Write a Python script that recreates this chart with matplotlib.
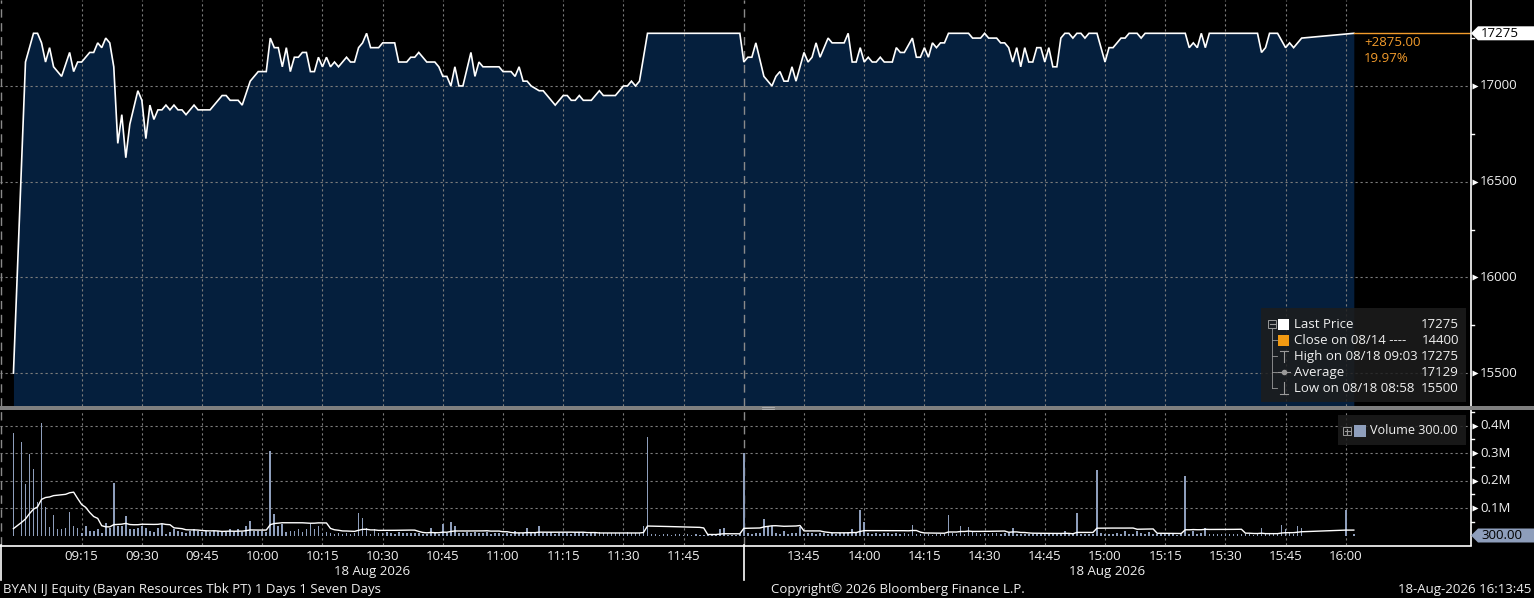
import numpy as np
import pandas as pd
import matplotlib
matplotlib.use("Agg")
import matplotlib.pyplot as plt
from matplotlib.transforms import blended_transform_factory as blend
from matplotlib.patches import Polygon, Rectangle
from matplotlib.lines import Line2D

plt.rcParams['font.family'] = ['Open Sans', 'DejaVu Sans']

# ---------------------------------------------------------------- data
price_times = [
    "08:58", "09:01", "09:03", "09:04", "09:05", "09:06", "09:07", "09:08", "09:10", "09:12",
    "09:13", "09:14", "09:15", "09:16", "09:17", "09:18", "09:19", "09:20", "09:21", "09:22",
    "09:23", "09:24", "09:25", "09:26", "09:27", "09:29", "09:30", "09:31", "09:32", "09:33",
    "09:34", "09:35", "09:36", "09:37", "09:38", "09:39", "09:40", "09:41", "09:43", "09:44",
    "09:47", "09:50", "09:51", "09:52", "09:54", "09:55", "09:57", "09:59", "10:01", "10:02",
    "10:03", "10:04", "10:05", "10:06", "10:07", "10:08", "10:09", "10:10", "10:11", "10:12",
    "10:13", "10:14", "10:15", "10:16", "10:17", "10:18", "10:19", "10:21", "10:22", "10:23",
    "10:24", "10:25", "10:26", "10:27", "10:29", "10:30", "10:33", "10:34", "10:36", "10:37",
    "10:38", "10:39", "10:41", "10:43", "10:44", "10:45", "10:46", "10:47", "10:48", "10:49",
    "10:50", "10:52", "10:53", "10:54", "10:55", "10:59", "11:00", "11:02", "11:03", "11:04",
    "11:05", "11:06", "11:07", "11:09", "11:10", "11:13", "11:15", "11:16", "11:17", "11:18",
    "11:19", "11:20", "11:22", "11:24", "11:25", "11:28", "11:30", "11:31", "11:32", "11:33",
    "11:34", "11:36", "11:59",
    "13:30", "13:31", "13:32", "13:33", "13:35", "13:37", "13:38", "13:39", "13:40", "13:41",
    "13:42", "13:43", "13:45", "13:46", "13:47", "13:48", "13:49", "13:51", "13:52", "13:55",
    "13:56", "13:57", "13:58", "13:59", "14:00", "14:01", "14:02", "14:03", "14:04", "14:05",
    "14:07", "14:08", "14:09", "14:10", "14:12", "14:13", "14:14", "14:15", "14:16", "14:17",
    "14:18", "14:19", "14:20", "14:21", "14:26", "14:27", "14:29", "14:30", "14:31", "14:33",
    "14:34", "14:35", "14:36", "14:37", "14:38", "14:39", "14:40", "14:41", "14:42", "14:43",
    "14:44", "14:45", "14:46", "14:47", "14:48", "14:49", "14:50", "14:51", "14:52", "14:53",
    "14:54", "14:55", "14:56", "14:58", "15:00", "15:01", "15:02", "15:04", "15:05", "15:06",
    "15:08", "15:09", "15:10", "15:20", "15:21", "15:22", "15:23", "15:24", "15:25", "15:26",
    "15:38", "15:39", "15:40", "15:41", "15:43", "15:45", "15:46", "15:47", "15:49", "16:02",
]
price_values = [
    15500, 17125, 17275, 17275, 17225, 17125, 17200, 17100, 17050, 17175,
    17075, 17125, 17125, 17150, 17175, 17175, 17225, 17200, 17250, 17225,
    17100, 16700, 16850, 16625, 16800, 16975, 16925, 16725, 16900, 16825,
    16875, 16875, 16900, 16875, 16900, 16875, 16875, 16850, 16900, 16875,
    16875, 16950, 16950, 16925, 16925, 16900, 17025, 17075, 17075, 17250,
    17200, 17200, 17100, 17200, 17075, 17150, 17150, 17175, 17175, 17075,
    17075, 17150, 17100, 17150, 17100, 17125, 17100, 17150, 17125, 17125,
    17200, 17225, 17275, 17200, 17200, 17225, 17225, 17125, 17125, 17150,
    17150, 17175, 17125, 17125, 17100, 17050, 17050, 17000, 17100, 17000,
    17000, 17175, 17050, 17125, 17100, 17100, 17075, 17075, 17050, 17100,
    17025, 17025, 17000, 16975, 16975, 16900, 16950, 16950, 16925, 16925,
    16950, 16925, 16925, 16975, 16950, 16950, 17000, 17000, 17025, 17000,
    17025, 17275, 17275,
    17125, 17150, 17150, 17225, 17050, 17000, 17050, 17075, 17025, 17025,
    17100, 17025, 17175, 17125, 17150, 17225, 17150, 17250, 17225, 17225,
    17275, 17125, 17125, 17200, 17125, 17150, 17125, 17125, 17150, 17125,
    17125, 17200, 17175, 17175, 17250, 17150, 17150, 17200, 17150, 17225,
    17200, 17225, 17225, 17275, 17275, 17250, 17250, 17275, 17250, 17250,
    17225, 17225, 17200, 17125, 17200, 17100, 17200, 17125, 17125, 17200,
    17200, 17125, 17200, 17100, 17100, 17250, 17275, 17275, 17250, 17275,
    17275, 17250, 17275, 17275, 17125, 17200, 17200, 17250, 17250, 17275,
    17275, 17250, 17275, 17275, 17200, 17225, 17200, 17275, 17200, 17275,
    17275, 17175, 17200, 17275, 17275, 17200, 17225, 17200, 17250, 17275,
]

NA = np.nan
# per-minute volume, thousands of shares (NA = no trade)
vol_s1_start = "08:58"
vol_s1_k = [
    375, NA, 339, 187, 296, 242, 123, 411, 103, 30,
    73, 22, 22, 27, 85, 34, 27, 10, 34, 18,
    17, 22, 10, 44, 27, 193, 36, 36, 70, 22,
    22, 29, 36, 29, 18, 12, 27, 42, 6, 12,
    22, 15, 12, 10, 15, 22, 18, 12, 15, 12,
    18, 15, 18, 12, 24, 12, 24, 12, 36, 54,
    18, 15, 15, 12, 308, 79, 34, 42, 12, 18,
    18, 22, 12, 22, 42, 22, 33, 10, 12, 8,
    6, 8, 5, 8, 6, 10, 81, 63, 27, 6,
    22, 8, 10, 14, 9, 7, 12, 8, 10, 9,
    8, 10, 7, 6, 27, 8, 6, 42, 9, 51,
    34, 10, 8, 12, 9, 11, 8, 10, 14, 7,
    9, 8, 6, 10, 7, 15, 8, 10, 27, 8,
    9, 34, 8, 10, 12, 7, 9, 10, 8, 7,
    10, 12, 8, 7, 10, 9, 11, 8, 9, 10,
    8, 9, 10, 12, 9, 8, 10, 34, 360, 6,
    4, 3, 5, 4, 3, 4, 5, 3, 4, 3,
    4, 3, 2, 3, 4, 3, 24, 28, 3, 2,
    3, 4,
]
vol_s2_start = "13:30"
vol_s2_k = [
    302, 8, 6, 10, 9, 60, 34, 34, 8, 6,
    15, 7, 8, 9, 30, 6, 8, 10, 7, 9,
    8, 6, 10, 7, 9, 8, 12, 22, 8, 94,
    48, 8, 6, 9, 7, 10, 8, 6, 9, 7,
    8, 6, 40, 7, 5, 4, 6, 3, 5, 4,
    6, 76, 8, 6, 36, 7, 30, 18, 8, 6,
    9, 7, 8, 10, 6, 9, 8, 27, 7, 6,
    5, 6, 4, 7, 5, 6, 4, 5, 6, 8,
    15, 6, 5, 81, 4, 6, 5, 4, 240, 8,
    6, 7, 5, 8, 6, 15, 7, 6, 15, 8,
    6, 14, 7, 5, 4, 6, 5, 4, 3, 5,
    218, 6, 18, 7, 8, 29, 6, 7, 5, 6,
    7, 6, 5, 6, 7, 4, 5, 3, 4, 27,
    5, 6, 4, 7, 40, 24, 8, 6, 33, 29,
    NA, NA, NA, NA, NA, NA, NA, NA, NA, NA,
    94, NA, 6,
]

tick_labels = ["09:15", "09:30", "09:45", "10:00", "10:15", "10:30", "10:45", "11:00",
               "11:15", "11:30", "11:45", "13:45", "14:00", "14:15", "14:30", "14:45",
               "15:00", "15:15", "15:30", "15:45", "16:00"]
session_breaks = ["08:55", "12:00"]
date_label = "18 Aug 2026"
price_grid = [15500, 16000, 16500, 17000]
price_minor = [15750, 16250, 16750, 17250]
vol_grid = [0.1, 0.2, 0.3, 0.4]
vol_grid_labels = ["0.1M", "0.2M", "0.3M", "0.4M"]
vol_minor = [0.05, 0.15, 0.25, 0.35, 0.45]
last_price = 17275
last_price_label = "17275"
last_volume_label = "300.00"
change_abs = "+2875.00"
change_pct = "19.97%"
legend_labels = ["Last Price", "Close on 08/14 ----", "High on 08/18 09:03", "Average", "Low on 08/18 08:58"]
legend_values = ["17275", "14400", "17275", "17129", "15500"]
footer_left = "BYAN IJ Equity (Bayan Resources Tbk PT) 1 Days 1 Seven Days"
footer_mid = "Copyright\u00a9 2026 Bloomberg Finance L.P."
footer_right = "18-Aug-2026 16:13:45"

# ---------------------------------------------------------------- helpers
W, H = 1534, 598
NAVY = "#051f3d"
GRID = "#7c7c7c"
TXT = "#f0f0f0"
ORANGE = "#f39c2c"
VOLC = "#8e9ebb"
FS = 9.5


def tpos(t):
    h, m = map(int, t.split(":"))
    mm = h * 60 + m
    return mm - 540 if mm <= 720 else 180 + mm - 810


def minute_seq(start, n):
    h, m = map(int, start.split(":"))
    b = h * 60 + m
    return ["%02d:%02d" % ((b + i) // 60, (b + i) % 60) for i in range(n)]


def F(x, y):
    return (x / W, 1 - y / H)


X_LEFT, X_RIGHT = -5.35, 361.2
AX_R = 1471

fig = plt.figure(figsize=(W / 100, H / 100), dpi=100, facecolor="black")
ax_p = fig.add_axes([0, 1 - 406 / H, AX_R / W, 406 / H])
ax_v = fig.add_axes([0, 1 - 545 / H, AX_R / W, (545 - 410) / H])
for ax in (ax_p, ax_v):
    ax.set_facecolor("black")
    for s in ax.spines.values():
        s.set_visible(False)
    ax.set_xticks([])
    ax.set_yticks([])
    ax.set_xlim(X_LEFT, X_RIGHT)
ax_p.set_ylim(15328, 17449)
ax_v.set_ylim(-0.0346, 0.4572)

# ---------------------------------------------------------------- price
px = np.array([tpos(t) for t in price_times], dtype=float)
pv = np.array(price_values, dtype=float)
ax_p.fill_between(px, pv, 15000, color=NAVY, lw=0, zorder=1)
ax_p.plot(px, pv, color="white", lw=1.2, zorder=3, solid_joinstyle="miter")
ax_p.plot([px[-1], X_RIGHT], [pv[-1], pv[-1]], color=ORANGE, lw=1.0, zorder=3)

grid_pos = [tpos(t) for t in tick_labels]
for ax in (ax_p, ax_v):
    for g in grid_pos:
        ax.axvline(g, color=GRID, lw=0.8, ls=(0, (2, 2.5)), zorder=1.5)
    for b in session_breaks:
        ax.axvline(tpos(b), color="#8a8a8a", lw=1.0, ls=(0, (6, 4)), zorder=1.6)
for g in price_grid:
    ax_p.axhline(g, color=GRID, lw=0.8, ls=(0, (2, 2.5)), zorder=1.5)
for g in vol_grid:
    ax_v.axhline(g, color=GRID, lw=0.8, ls=(0, (2, 2.5)), zorder=0.5)

# ---------------------------------------------------------------- volume
vt = minute_seq(vol_s1_start, len(vol_s1_k)) + minute_seq(vol_s2_start, len(vol_s2_k))
vv = np.array(vol_s1_k + vol_s2_k, dtype=float) / 1000.0
vpos = np.array([tpos(t) for t in vt], dtype=float)
mask = ~np.isnan(vv)
ax_v.bar(vpos[mask], vv[mask], width=0.42, color=VOLC, lw=0, zorder=2)
ma = pd.Series(vv[mask]).rolling(15, min_periods=1).sum() / 15.0
ax_v.plot(vpos[mask], ma.values, color="white", lw=1.0, zorder=3)

# ---------------------------------------------------------------- axis frame
fig.add_artist(Line2D([AX_R / W] * 2, [1, 1 - 545 / H], transform=fig.transFigure,
                      color="white", lw=1.2, zorder=4))
fig.add_artist(Line2D([0, AX_R / W], [1 - 545.5 / H] * 2, transform=fig.transFigure,
                      color="white", lw=1.2, zorder=4))
fig.add_artist(Rectangle(F(0, 410), 1, 4 / H, transform=fig.transFigure,
                         fc="#7f7f7f", ec="none", zorder=5))
for yy in (407.2, 409.0):
    fig.add_artist(Line2D([762 / W, 774 / W], [1 - yy / H] * 2, transform=fig.transFigure,
                          color="#b5b5b5", lw=0.6, zorder=6))


def right_labels(ax, vals, labels, minors):
    tr = blend(ax.transAxes, ax.transData)
    for v, lab in zip(vals, labels):
        ax.plot([1475 / AX_R], [v], marker=">", ms=4.5, color="white", mec="none",
                transform=tr, clip_on=False, zorder=5)
        ax.text(1480 / AX_R, v, lab, transform=tr, color=TXT, fontsize=FS,
                va="center", ha="left", clip_on=False)
    for v in minors:
        ax.plot([1.0, 1474 / AX_R], [v, v], color="white", lw=1, transform=tr,
                clip_on=False, zorder=5)


right_labels(ax_p, price_grid, [str(v) for v in price_grid], price_minor)
right_labels(ax_v, vol_grid, vol_grid_labels, vol_minor)

fig.canvas.draw()


def value_box(ax, v, text, fc, tc):
    yd = ax.transData.transform((0, v))[1]
    yp = H - yd
    pts = [F(1471, yp), F(1478, yp - 7), F(1534, yp - 7), F(1534, yp + 7), F(1478, yp + 7)]
    fig.add_artist(Polygon(pts, closed=True, transform=fig.transFigure, fc=fc, ec="none", zorder=7))
    fig.text(*F(1481, yp), text, color=tc, fontsize=FS, va="center", ha="left", zorder=8)
    return yp


yl = value_box(ax_p, last_price, last_price_label, "white", "black")
value_box(ax_v, 0.0, last_volume_label, VOLC, "black")

fig.text(*F(1364, yl + 9.5), change_abs, color=ORANGE, fontsize=FS, va="center", ha="left")
fig.text(*F(1364, yl + 25.5), change_pct, color=ORANGE, fontsize=FS, va="center", ha="left")

# ---------------------------------------------------------------- legends
fig.add_artist(Rectangle(F(1261, 401.5), (1466 - 1261) / W, (401.5 - 308) / H,
                         transform=fig.transFigure, fc="#1d1d1d", alpha=0.85, ec="none", zorder=6))
rows_y = [324.3, 340.3, 356.3, 372.3, 388.3]
ICON = "#9a9a9a"


def L(x1, y1, x2, y2, c=ICON, lw=0.8):
    fig.add_artist(Line2D([x1 / W, x2 / W], [1 - y1 / H, 1 - y2 / H], transform=fig.transFigure,
                          color=c, lw=lw, zorder=7))


fig.add_artist(Rectangle(F(1268, 328), 8 / W, 8 / H, transform=fig.transFigure,
                         fc="none", ec=ICON, lw=0.7, zorder=7))
L(1269.5, 324.3, 1274.5, 324.3)
L(1272, 328, 1272, 388.3, lw=0.6)
for ry in rows_y[1:]:
    L(1272, ry, 1277, ry, lw=0.6)
fig.add_artist(Rectangle(F(1278, 330), 11 / W, 11.5 / H, transform=fig.transFigure,
                         fc="white", ec="none", zorder=7))
fig.add_artist(Rectangle(F(1278, 346), 11 / W, 11.5 / H, transform=fig.transFigure,
                         fc="#f29a12", ec="none", zorder=7))
L(1280, 350.5, 1288, 350.5)
L(1284, 350.5, 1284, 362)
L(1278, 372.3, 1290, 372.3)
fig.add_artist(Line2D([1284 / W], [1 - 372.3 / H], marker="o", ms=3, color=ICON,
                      transform=fig.transFigure, zorder=7))
L(1284, 382, 1284, 393.5)
L(1280, 393.5, 1288, 393.5)
for ry, lab, val in zip(rows_y, legend_labels, legend_values):
    fig.text(*F(1294, ry), lab, color=TXT, fontsize=FS, va="center", ha="left", zorder=8)
    fig.text(*F(1459, ry), val, color=TXT, fontsize=FS, va="center", ha="right", zorder=8)

fig.add_artist(Rectangle(F(1338, 445), (1466 - 1338) / W, 30 / H,
                         transform=fig.transFigure, fc="#1d1d1d", alpha=0.85, ec="none", zorder=6))
fig.add_artist(Rectangle(F(1343, 435), 8 / W, 8 / H, transform=fig.transFigure,
                         fc="none", ec=ICON, lw=0.7, zorder=7))
L(1344.5, 431, 1349.5, 431)
L(1347, 428.5, 1347, 433.5)
fig.add_artist(Rectangle(F(1354, 437), 12 / W, 12 / H, transform=fig.transFigure,
                         fc=VOLC, ec="none", zorder=7))
fig.text(*F(1370, 431), "Volume " + last_volume_label, color=TXT, fontsize=9.1,
         va="center", ha="left", zorder=8)

# ---------------------------------------------------------------- bottom axis text
trb = blend(ax_v.transData, fig.transFigure)
for lab in tick_labels:
    ax_v.text(tpos(lab), 1 - 556 / H, lab, transform=trb, color=TXT, fontsize=FS,
              ha="center", va="center", clip_on=False)
for b in session_breaks:
    ax_v.plot([tpos(b)] * 2, [1 - 545 / H, 1 - 580 / H], transform=trb, color="white",
              lw=1.2, clip_on=False)
ax_v.text((X_LEFT + tpos("12:00")) / 2, 1 - 572 / H, date_label, transform=trb, color=TXT,
          fontsize=FS, ha="center", va="center", clip_on=False)
ax_v.text((tpos("12:00") + X_RIGHT) / 2, 1 - 572 / H, date_label, transform=trb, color=TXT,
          fontsize=FS, ha="center", va="center", clip_on=False)

fig.text(*F(3, 590), footer_left, color=TXT, fontsize=FS, ha="left", va="center")
fig.text(*F(771, 590), footer_mid, color=TXT, fontsize=FS, ha="left", va="center")
fig.text(*F(1531, 590), footer_right, color=TXT, fontsize=FS, ha="right", va="center")

fig.savefig("out.png", dpi=100, facecolor="black")
